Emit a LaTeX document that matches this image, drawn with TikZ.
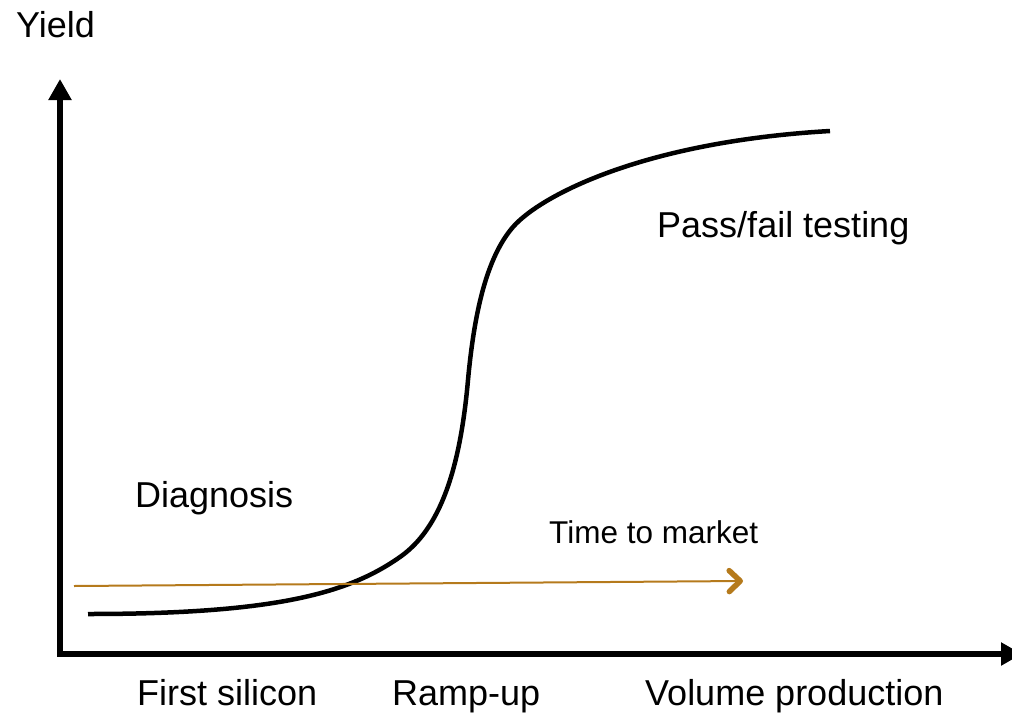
\documentclass[tikz,border=0pt]{standalone}
\usepackage{fontspec}
\setmainfont{Liberation Sans}
\usetikzlibrary{arrows.meta}
\definecolor{ttm}{HTML}{B57A1C}
\begin{document}
\begin{tikzpicture}[x=1pt,y=-1pt,
  lbl/.style={anchor=base west,inner sep=0pt,font=\fontsize{36}{42}\selectfont},
  small/.style={anchor=base west,inner sep=0pt,font=\fontsize{31.5}{36}\selectfont},
  axis/.style={line width=6pt,-{Triangle[width=22pt,length=21pt]}},
  curve/.style={line width=4.5pt,line cap=butt},
  ttmarrow/.style={ttm,line width=2pt,-{Straight Barb[length=11pt,width=21pt,line width=5.5pt,round]}}]
\useasboundingbox (0,0) rectangle (1012,715);

% axes
\coordinate (O) at (60,654);
\coordinate (ytop) at (60,79);
\coordinate (xend) at (1022,654);
\draw[axis] ([yshift=3pt]O) -- (ytop);
\draw[axis] ([xshift=-3pt]O) -- (xend);

% yield curve
\draw[curve] (88,614) .. controls (280,614) and (350,592) .. (400,557)
  .. controls (440,529) and (460,470) .. (468,380)
  .. controls (474,315) and (486,258) .. (513,227)
  .. controls (539,197) and (640,142) .. (830,131);

% time to market arrow
\coordinate (ttmA) at (74,586);
\coordinate (ttmB) at (743,581);
\draw[ttmarrow] (ttmA) -- (ttmB);

% labels
\node[lbl] (yield) at (16,37) {Yield};
\node[lbl] (diag) at (135,507) {Diagnosis};
\node[lbl] (pass) at (657,237) {Pass/fail testing};
\node[small] (time) at (549,543) {Time to market};
\node[lbl] (first) at (137,705) {First silicon};
\node[lbl] (ramp) at (392,705) {Ramp-up};
\node[lbl] (vol) at (645,705) {Volume production};
\end{tikzpicture}
\end{document}
